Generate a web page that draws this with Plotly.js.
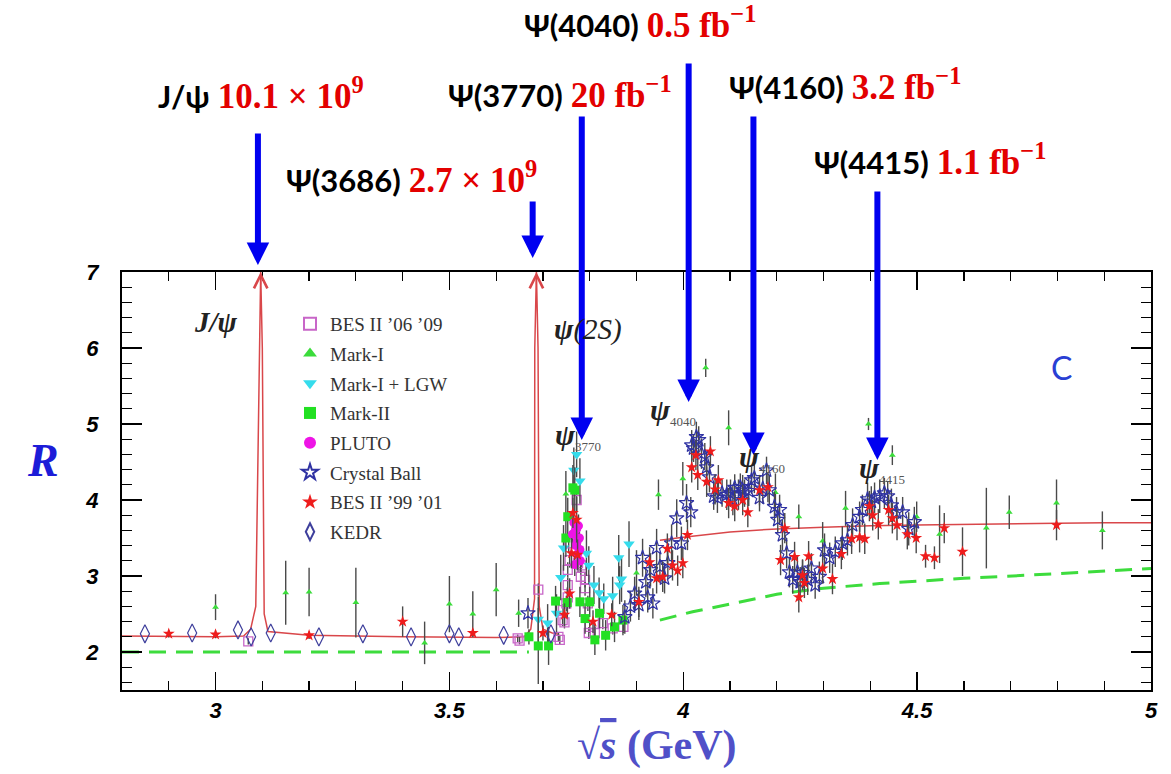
<!DOCTYPE html>
<html>
<head>
<meta charset="utf-8">
<script src="https://cdn.plot.ly/plotly-3.0.1.min.js"></script>
<style>html,body{margin:0;padding:0;background:#fff}#chart{width:1171px;height:774px}</style>
</head>
<body>
<div id="chart"></div>
<script>
// ---------------- data ----------------
// fit curve (solid red) – narrow resonances region
const fitX1 = [2.8, 3.0, 3.06, 3.075, 3.086, 3.093, 3.0965, 3.1, 3.104, 3.112, 3.2, 3.4, 3.6, 3.66, 3.674, 3.682, 3.6825, 3.686, 3.6895, 3.692, 3.70, 3.72, 3.735];
const fitY1 = [2.21, 2.2, 2.21, 2.3, 2.6, 6.0, 7.0, 6.0, 2.5, 2.27, 2.22, 2.2, 2.19, 2.2, 2.3, 2.7, 6.0, 7.0, 6.0, 2.6, 2.3, 2.25, 2.23];
// fit curve (solid red) – continuum above open charm
const fitX2 = [3.95, 4.0, 4.1, 4.2, 4.3, 4.4, 4.5, 4.6, 4.7, 4.8, 4.9, 5.0];
const fitY2 = [3.47, 3.51, 3.58, 3.62, 3.64, 3.66, 3.67, 3.68, 3.69, 3.695, 3.7, 3.7];
// dashed green (light quarks contribution)
const dashX = [2.8, 3.67, null, 3.95, 4.02, 4.1, 4.2, 4.3, 4.42, 4.6, 4.8, 5.0];
const dashY = [2.0, 2.0, null, 2.42, 2.53, 2.63, 2.76, 2.84, 2.9, 2.97, 3.03, 3.1];

// BES II '06 '09
const bes0609X = [3.07, 3.646, 3.65, 3.69, 3.733, 3.736, 3.742, 3.743, 3.746, 3.75, 3.753, 3.753, 3.753, 3.755, 3.757, 3.772, 3.775, 3.781, 3.782, 3.79, 3.79, 3.796, 3.798, 3.8, 3.811, 3.828, 3.849, 3.872];
const bes0609Y = [2.14, 2.18, 2.15, 2.82, 2.2, 2.16, 2.42, 2.55, 2.39, 2.64, 2.72, 2.88, 3.08, 3.43, 3.21, 4.0, 3.17, 2.99, 3.14, 2.95, 2.84, 2.64, 2.25, 2.33, 2.25, 2.38, 2.31, 2.33];
const bes0609E = [0.04, 0.05, 0.05, 0.08, 0.06, 0.06, 0.08, 0.08, 0.08, 0.1, 0.1, 0.1, 0.1, 0.12, 0.1, 0.15, 0.12, 0.1, 0.1, 0.1, 0.1, 0.1, 0.08, 0.08, 0.08, 0.08, 0.08, 0.08];

// Mark-I
const markIX = [3.0, 3.15, 3.2, 3.3, 3.447, 3.5, 3.55, 3.6, 3.648, 3.749, 3.9, 3.947, 3.999, 4.048, 4.097, 4.197, 4.247, 4.298, 4.347, 4.396, 4.447, 4.499, 4.548, 4.648, 4.697, 4.798, 4.896];
const markIY = [2.59, 2.78, 2.79, 2.65, 2.12, 2.63, 2.50, 2.82, 2.51, 4.08, 3.04, 4.07, 4.28, 5.74, 4.95, 4.10, 3.78, 3.46, 3.89, 5.00, 4.59, 3.78, 3.55, 3.63, 3.84, 3.96, 3.60];
const markIE = [0.17, 0.42, 0.32, 0.46, 0.28, 0.37, 0.30, 0.35, 0.18, 0.30, 0.30, 0.20, 0.22, 0.12, 0.23, 0.25, 0.16, 0.25, 0.23, 0.08, 0.13, 0.20, 0.38, 0.53, 0.22, 0.31, 0.25];

// Mark-I + LGW
const lgwX = [3.69, 3.71, 3.729, 3.738, 3.744, 3.766, 3.772, 3.779, 3.793, 3.798, 3.809, 3.82, 3.83, 3.849, 3.862, 3.864, 3.868, 3.884];
const lgwY = [2.43, 2.38, 2.51, 2.98, 3.37, 4.39, 4.6, 4.25, 3.3, 3.14, 2.88, 2.78, 2.7, 2.74, 3.24, 2.88, 2.96, 3.42];
const lgwE = [0.3, 0.25, 0.25, 0.3, 0.3, 0.3, 0.3, 0.3, 0.3, 0.25, 0.25, 0.2, 0.2, 0.25, 0.3, 0.25, 0.3, 0.3];

// Mark-II
const mk2X = [3.67, 3.69, 3.712, 3.727, 3.749, 3.752, 3.753, 3.764, 3.768, 3.779, 3.79, 3.8, 3.811, 3.821, 3.834, 3.853, 3.871];
const mk2Y = [2.2, 2.08, 2.08, 2.67, 3.5, 2.65, 3.78, 4.16, 4.13, 2.66, 2.44, 2.66, 2.16, 2.51, 2.22, 2.33, 2.42];
const mk2E = [0.1, 0.5, 0.25, 0.2, 0.25, 0.2, 0.25, 0.3, 0.3, 0.2, 0.2, 0.2, 0.2, 0.2, 0.2, 0.2, 0.2];

// PLUTO
const plutoX = [3.763, 3.766, 3.768, 3.769, 3.77, 3.772, 3.773, 3.775, 3.776, 3.778, 3.779, 3.78];
const plutoY = [3.55, 3.7, 3.15, 3.6, 3.4, 3.62, 3.45, 3.3, 3.66, 3.5, 3.35, 3.2];
const plutoE = [0.15, 0.15, 0.15, 0.15, 0.15, 0.15, 0.15, 0.15, 0.15, 0.15, 0.15, 0.15];

// Crystal Ball
const cbX = [3.668, 3.875, 3.887, 3.896, 3.905, 3.913, 3.92, 3.924, 3.93, 3.935, 3.943, 3.95, 3.96, 3.967, 3.975, 3.986, 3.996, 4.007, 4.016, 4.018, 4.022, 4.028, 4.033, 4.039, 4.046, 4.05, 4.056, 4.065, 4.073, 4.083, 4.093, 4.101, 4.106, 4.11, 4.118, 4.122, 4.127, 4.131, 4.14, 4.146, 4.152, 4.163, 4.17, 4.178, 4.184, 4.195, 4.202, 4.206, 4.212, 4.221, 4.227, 4.234, 4.244, 4.25, 4.255, 4.266, 4.274, 4.282, 4.291, 4.302, 4.313, 4.325, 4.34, 4.351, 4.362, 4.377, 4.383, 4.394, 4.402, 4.409, 4.42, 4.43, 4.437, 4.445, 4.456, 4.469, 4.482, 4.494];
const cbY = [2.51, 2.46, 2.6, 2.77, 2.62, 3.24, 2.92, 2.72, 3.08, 2.64, 3.37, 3.12, 2.97, 3.17, 3.43, 3.76, 3.43, 3.96, 3.84, 4.72, 4.68, 4.83, 4.79, 4.61, 4.57, 4.43, 4.3, 4.05, 4.03, 4.09, 4.07, 4.09, 4.0, 4.16, 4.07, 4.17, 4.13, 4.09, 4.12, 4.26, 4.29, 4.03, 4.15, 4.39, 4.13, 3.91, 3.74, 3.87, 3.54, 3.3, 3.05, 2.95, 3.05, 2.92, 3.04, 2.95, 3.1, 2.88, 2.99, 3.34, 3.24, 3.32, 3.43, 3.47, 3.67, 3.78, 3.87, 4.01, 3.98, 4.03, 4.05, 4.09, 4.05, 3.93, 3.84, 3.84, 3.62, 3.71];
const cbE = [0.2, 0.22, 0.2, 0.22, 0.2, 0.25, 0.2, 0.2, 0.22, 0.2, 0.25, 0.2, 0.2, 0.22, 0.25, 0.25, 0.22, 0.25, 0.2, 0.2, 0.18, 0.2, 0.18, 0.2, 0.18, 0.2, 0.2, 0.18, 0.2, 0.18, 0.2, 0.18, 0.2, 0.18, 0.2, 0.18, 0.2, 0.18, 0.2, 0.18, 0.2, 0.18, 0.2, 0.18, 0.2, 0.2, 0.18, 0.2, 0.2, 0.2, 0.2, 0.18, 0.2, 0.2, 0.18, 0.2, 0.2, 0.18, 0.2, 0.22, 0.2, 0.2, 0.22, 0.2, 0.22, 0.2, 0.2, 0.22, 0.2, 0.2, 0.22, 0.2, 0.2, 0.22, 0.2, 0.2, 0.22, 0.2];

// BES II '99 '01
const bes9901X = [2.9, 3.0, 3.2, 3.4, 3.55, 3.7, 3.746, 3.757, 3.761, 3.764, 3.772, 3.774, 3.807, 3.847, 3.905, 3.928, 3.943, 3.956, 3.966, 3.977, 3.988, 3.999, 4.009, 4.018, 4.027, 4.031, 4.05, 4.058, 4.068, 4.075, 4.097, 4.11, 4.127, 4.138, 4.163, 4.181, 4.208, 4.217, 4.238, 4.247, 4.255, 4.259, 4.268, 4.298, 4.319, 4.338, 4.36, 4.377, 4.388, 4.398, 4.405, 4.417, 4.439, 4.447, 4.457, 4.479, 4.498, 4.518, 4.537, 4.558, 4.597, 4.798];
const bes9901Y = [2.24, 2.23, 2.22, 2.4, 2.25, 2.25, 2.49, 2.77, 3.3, 3.83, 3.74, 3.28, 2.4, 2.49, 2.66, 3.18, 2.97, 2.99, 3.36, 3.14, 3.07, 3.17, 3.54, 4.43, 4.59, 4.33, 4.24, 4.64, 4.14, 4.26, 3.96, 3.92, 4.0, 3.84, 4.13, 4.17, 3.21, 3.63, 3.25, 2.72, 3.01, 2.91, 3.26, 3.1, 2.96, 3.29, 3.49, 3.51, 3.49, 3.92, 3.8, 3.68, 3.87, 3.76, 3.67, 3.55, 3.5, 3.26, 3.24, 3.63, 3.32, 3.67];
const bes9901E = [0.05, 0.05, 0.05, 0.2, 0.05, 0.1, 0.15, 0.2, 0.2, 0.2, 0.3, 0.2, 0.15, 0.15, 0.2, 0.2, 0.2, 0.2, 0.2, 0.2, 0.2, 0.2, 0.2, 0.2, 0.2, 0.2, 0.2, 0.2, 0.2, 0.2, 0.2, 0.2, 0.2, 0.2, 0.2, 0.2, 0.2, 0.2, 0.2, 0.2, 0.2, 0.2, 0.2, 0.2, 0.2, 0.2, 0.2, 0.2, 0.2, 0.2, 0.2, 0.2, 0.2, 0.2, 0.2, 0.2, 0.2, 0.15, 0.15, 0.2, 0.32, 0.2];

// KEDR
const kedrX = [2.849, 2.95, 3.048, 3.076, 3.118, 3.221, 3.315, 3.418, 3.5, 3.52, 3.616, 3.717];
const kedrY = [2.24, 2.25, 2.29, 2.2, 2.25, 2.2, 2.24, 2.2, 2.24, 2.2, 2.22, 2.24];

// resonance labels (top) and where their arrows point
const resNames = ['J/ψ', 'Ψ(3686)', 'Ψ(3770)', 'Ψ(4040)', 'Ψ(4160)', 'Ψ(4415)'];
const resSamples = ['10.1 × 10<sup>9</sup>', '2.7 × 10<sup>9</sup>', '20 fb<sup>−1</sup>', '0.5 fb<sup>−1</sup>', '3.2 fb<sup>−1</sup>', '1.1 fb<sup>−1</sup>'];
const resArrowX = [3.0906, 3.678, 3.783, 4.0115, 4.150, 4.415];

// ---------------- helpers (layout only) ----------------
const L = 122, R = 1151, T = 272, B = 690;
const px = p => (p - L) / (R - L);
const py = p => (B - p) / (B - T);

const errStyle = arr => ({type: 'data', array: arr, visible: true, color: '#4a4a4a', thickness: 1.4, width: 0});
let gi = 0;
function pts(name, x, y, e, marker) {
  gi++;
  return {type: 'scatter', mode: 'markers', name: name, x: x, y: y, legendgroup: 'g' + gi,
          error_y: e ? errStyle(e) : undefined, marker: marker, cliponaxis: true};
}

const traces = [
  {type: 'scatter', mode: 'lines', x: dashX, y: dashY, showlegend: false, hoverinfo: 'skip',
   line: {color: '#3ddc3d', width: 3, dash: '17px,10px'}},
  {type: 'scatter', mode: 'lines', x: fitX1, y: fitY1, showlegend: false, hoverinfo: 'skip',
   line: {color: '#d9474a', width: 1.5}},
  {type: 'scatter', mode: 'lines', x: fitX2, y: fitY2, showlegend: false, hoverinfo: 'skip',
   line: {color: '#d9474a', width: 1.5}},
  pts("BES II ’06 ’09", bes0609X, bes0609Y, bes0609E, {symbol: 'square-open', size: 9, color: '#c866c8', line: {width: 1.3, color: '#c866c8'}}),
  pts('Mark-I', markIX, markIY, markIE, {symbol: 'triangle-up', size: 6, color: '#3bdc3b'}),
  pts('Mark-I + LGW', lgwX, lgwY, lgwE, {symbol: 'triangle-down', size: 10, color: '#35dcec'}),
  pts('Mark-II', mk2X, mk2Y, mk2E, {symbol: 'square', size: 9, color: '#22e022'}),
  pts('PLUTO', plutoX, plutoY, plutoE, {symbol: 'circle', size: 9, color: '#ee14e6'}),
  pts('Crystal Ball', cbX, cbY, cbE, {symbol: 'star-open', size: 11, color: '#2f32a3', line: {width: 1.2, color: '#2f32a3'}}),
  pts("BES II ’99 ’01", bes9901X, bes9901Y, bes9901E, {symbol: 'star', size: 9, color: '#ee1c1c'}),
  pts('KEDR', kedrX, kedrY, null, {symbol: 'diamond-tall-open', size: 13, color: '#3e3f9c', line: {width: 1.2, color: '#3e3f9c'}})
];

const serif = "'Liberation Serif', 'DejaVu Serif', serif";
const ann = [];
// top labels
const labelPos = [[261, 93], [411, 177], [560, 92], [640, 22], [845, 85], [930, 160]];
const arrowGeom = [[265, 132], [258, 200], [440, 115], [402, 62], [455, 115], [460, 190]];
resNames.forEach((n, i) => {
  ann.push({xref: 'paper', yref: 'paper', x: px(labelPos[i][0]), y: py(labelPos[i][1]), showarrow: false,
    xanchor: 'center', yanchor: 'middle',
    text: '<b>' + n + '</b> <span style="font-family:' + "'Liberation Serif'" + ';color:#e30000;font-size:35px"><b>' + resSamples[i] + '</b></span>',
    font: {family: 'Lato, sans-serif', size: 31, color: '#000'}});
  ann.push({xref: 'x', yref: 'paper', x: resArrowX[i], y: py(arrowGeom[i][0]),
    ax: 0, ay: -(arrowGeom[i][0] - arrowGeom[i][1]), axref: 'pixel', ayref: 'pixel',
    showarrow: true, arrowhead: 2, arrowsize: 0.75, arrowwidth: 6, arrowcolor: '#0000f0', text: ''});
});
// peak arrow tips (red open chevrons at top of the narrow peaks)
[3.0965, 3.686].forEach(xv => {
  ann.push({xref: 'x', yref: 'y', x: xv, y: 7.0, ax: 0, ay: 14, showarrow: true, arrowhead: 5,
    arrowsize: 2.2, arrowwidth: 1.2, arrowcolor: '#d9474a', text: ''});
});
// in-plot labels
const sub = s => '<sub><span style="font-size:13px;fill:#555">' + s + '</span></sub>';
const inLabels = [
  {x: 216, y: 322, t: '<b><i>J/ψ</i></b>', s: 29},
  {x: 588, y: 329, t: '<i><b>ψ</b>(2S)</i>', s: 29},
  {x: 578, y: 436, t: '<b><i>ψ</i></b>' + sub('3770'), s: 30},
  {x: 673, y: 411, t: '<b><i>ψ</i></b>' + sub('4040'), s: 30},
  {x: 762, y: 458, t: '<b><i>ψ</i></b>' + sub('4160'), s: 30},
  {x: 882, y: 469, t: '<b><i>ψ</i></b>' + sub('4415'), s: 30}
];
inLabels.forEach(o => ann.push({xref: 'paper', yref: 'paper', x: px(o.x), y: py(o.y), showarrow: false,
  xanchor: 'center', yanchor: 'middle', text: o.t, font: {family: serif, size: o.s, color: '#222'}}));
ann.push({xref: 'paper', yref: 'paper', x: px(1061), y: py(367), showarrow: false, text: 'C',
  xanchor: 'center', yanchor: 'middle', font: {family: 'Lato, sans-serif', size: 32, color: '#2a3fd4'}});
ann.push({xref: 'paper', yref: 'paper', x: px(43), y: py(460), showarrow: false, text: '<b><i>R</i></b>',
  xanchor: 'center', yanchor: 'middle', font: {family: serif, size: 46, color: '#1c1cd8'}});
ann.push({xref: 'paper', yref: 'paper', x: px(657), y: py(745), showarrow: false,
  xanchor: 'center', yanchor: 'middle',
  text: '<b>√<span style="text-decoration:overline"><i>s</i></span> (GeV)</b>', font: {family: serif, size: 42, color: '#5050c8'}});

const tickFont = {family: "'Liberation Sans', Arial, sans-serif", size: 22, color: '#000', weight: 'bold', style: 'italic'};
const layout = {
  width: 1171, height: 774,
  margin: {l: L, r: 1171 - R, t: T, b: 774 - B, pad: 0},
  paper_bgcolor: '#fff', plot_bgcolor: '#fff',
  showlegend: true,
  legend: {x: px(290), y: py(305), xanchor: 'left', yanchor: 'top', bgcolor: 'rgba(0,0,0,0)',
    font: {family: serif, size: 19, color: '#333'}, itemsizing: 'constant', traceorder: 'grouped', tracegroupgap: 2},
  xaxis: {range: [2.8, 5.0], tick0: 0, dtick: 0.5, ticks: 'inside', ticklen: 18, tickwidth: 1.4, tickcolor: '#000',
    showline: true, linewidth: 2, linecolor: '#000', mirror: 'ticks', showgrid: false, zeroline: false,
    tickfont: tickFont, ticklabelstandoff: 0,
    minor: {dtick: 0.1, tick0: 0, ticks: 'inside', ticklen: 9, tickwidth: 1.2, tickcolor: '#000', showgrid: false}},
  yaxis: {range: [1.5, 7], tick0: 0, dtick: 1, ticks: 'inside', ticklen: 20, tickwidth: 1.4, tickcolor: '#000',
    showline: true, linewidth: 2, linecolor: '#000', mirror: 'ticks', showgrid: false, zeroline: false,
    tickfont: tickFont, ticklabelstandoff: 17,
    minor: {dtick: 0.2, tick0: 0, ticks: 'inside', ticklen: 10, tickwidth: 1.2, tickcolor: '#000', showgrid: false}},
  annotations: ann
};
Plotly.newPlot('chart', traces, layout, {displayModeBar: false, staticPlot: true});
</script>
</body>
</html>
